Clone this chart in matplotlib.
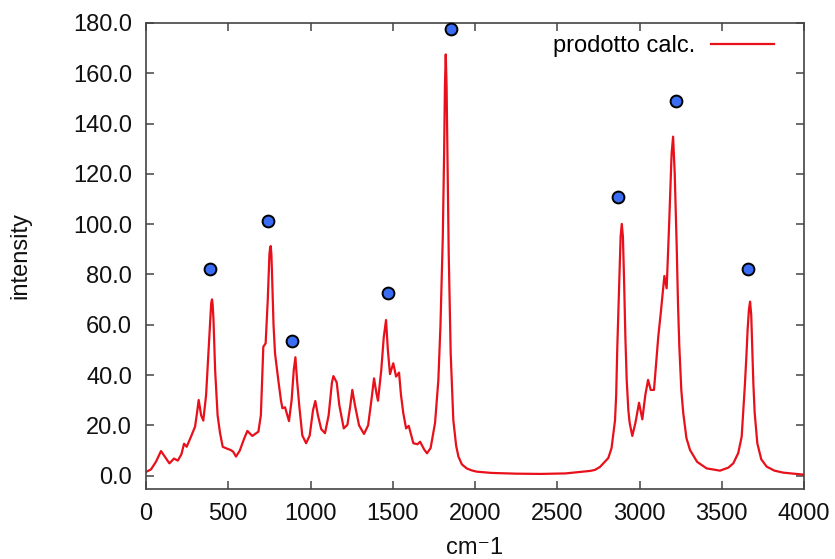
import matplotlib
matplotlib.use('Agg')
import matplotlib.pyplot as plt
from matplotlib.ticker import FormatStrFormatter, MultipleLocator

plt.rcParams['font.family'] = ['Liberation Sans', 'DejaVu Sans']

# spettro calcolato
wavenumber = [0, 30, 60, 91, 115, 142, 170, 193, 215, 231, 247, 270, 298, 310, 320, 335, 348,
              365, 380, 392, 396, 401, 405, 410, 420, 435, 450, 466, 494, 515, 530, 547, 570,
              595, 616, 646, 683, 698, 713, 727, 740, 750, 754, 758, 762, 766, 775, 784, 804,
              820, 829, 845, 869, 885, 898, 908, 918, 932, 950, 973, 995, 1015, 1029, 1045,
              1065, 1088, 1110, 1130, 1139, 1159, 1175, 1202, 1224, 1240, 1254, 1270, 1295,
              1325, 1350, 1370, 1386, 1400, 1410, 1430, 1445, 1459, 1470, 1483, 1503, 1520,
              1538, 1550, 1564, 1581, 1597, 1625, 1650, 1666, 1690, 1708, 1730, 1757, 1777,
              1790, 1804, 1812, 1817, 1822, 1827, 1832, 1840, 1852, 1868, 1885, 1899, 1920,
              1949, 1980, 2010, 2100, 2250, 2400, 2550, 2638, 2700, 2729, 2760, 2780, 2810,
              2830, 2841, 2851, 2858, 2865, 2877, 2885, 2892, 2899, 2906, 2914, 2922, 2932,
              2940, 2956, 2975, 2997, 3017, 3035, 3052, 3068, 3088, 3100, 3114, 3129, 3151,
              3165, 3180, 3195, 3204, 3214, 3226, 3234, 3242, 3254, 3266, 3285, 3307, 3350,
              3408, 3489, 3540, 3570, 3600, 3621, 3641, 3650, 3657, 3665, 3672, 3679, 3686,
              3692, 3700, 3716, 3740, 3773, 3820, 3875, 4000]
intensity = [1.5, 2.5, 5.5, 9.8, 7.5, 4.9, 6.8, 6.0, 8.5, 12.7, 11.5, 15, 19.5, 25, 30.1, 24, 21.9,
             32, 50, 65, 68.5, 70.1, 68, 62, 42, 24, 16.9, 11.5, 10.7, 10.2, 9.5, 7.6, 10,
             14.5, 17.8, 15.8, 17.5, 24, 51.3, 52.6, 70, 88, 90.5, 91.3, 88, 80, 60, 48.7, 38,
             30, 26.8, 27.2, 21.7, 30, 42, 47.1, 38, 27.4, 16, 12.9, 16, 26, 29.7, 24,
             18.5, 16.9, 24, 37, 39.6, 37.1, 28, 18.8, 20.2, 27, 34.1, 28, 20,
             16.6, 20, 30, 38.7, 33, 29.8, 42, 55, 61.9, 50, 40.4, 44.7, 39.4,
             41, 32, 24.8, 18.8, 19.8, 12.9, 12.5, 13.5, 10.5, 8.9, 11, 21, 38,
             60, 95, 128, 155, 167.5, 155, 128, 88.4, 48.7, 22.1, 12, 7.6, 4.5,
             2.9, 2.1, 1.6, 1.1, 0.8, 0.7, 0.9, 1.5, 1.9, 2.3, 3.5, 4.9, 7,
             11, 16.9, 22, 32, 51.3, 77.8, 95, 100.1, 95, 77.8, 55, 38.1, 26,
             21, 15.8, 21, 29.0, 22.4, 32, 38.1, 34.1, 34.1, 44, 55.3, 64.6, 79.4,
             74.5, 100, 128, 134.8, 120, 91.1, 68, 51.3, 34, 24.8, 15, 10.2, 5.5,
             2.9, 2.0, 3.2, 4.9, 9.0, 15.5, 36.7, 48, 58, 66, 69.2, 64, 50,
             36.7, 25, 12.9, 6.5, 3.6, 2.0, 1.2, 0.4]

# punti sperimentali (pallini blu)
dot_x = [389, 744, 890, 1473, 1852, 2871, 3224, 3661]
dot_y = [82.1, 101.3, 53.6, 72.5, 177.5, 110.9, 148.9, 82.2]

fig = plt.figure(figsize=(8.35, 5.59), dpi=100)
ax = fig.add_axes([0.1749, 0.1252, 0.788, 0.8337])

ax.plot(wavenumber, intensity, color='#e8101a', linewidth=1.6, label='prodotto calc.')
ax.plot(dot_x, dot_y, linestyle='none', marker='o', markersize=8.5,
        markerfacecolor='#3a6cf4', markeredgecolor='black', markeredgewidth=1.4,
        clip_on=False, zorder=5)

ax.set_xlim(0, 4000)
ax.set_ylim(-5.3, 180)
ax.xaxis.set_major_locator(MultipleLocator(500))
ax.yaxis.set_major_locator(MultipleLocator(20))
ax.yaxis.set_major_formatter(FormatStrFormatter('%.1f'))

for s in ax.spines.values():
    s.set_color('#444444')
    s.set_linewidth(1.2)
ax.tick_params(direction='in', length=6, width=1.1, color='#444444',
               top=True, right=True, labelsize=17, labelcolor='#111111')
ax.tick_params(axis='x', pad=10)
ax.tick_params(axis='y', pad=10)

ax.set_xlabel('cm\u207b1', fontsize=17, labelpad=9, color='#111111')
ax.set_ylabel('intensity', fontsize=17, labelpad=30, color='#111111')

ax.legend(loc='upper right', frameon=False, markerfirst=False, fontsize=17,
          handlelength=2.7, handletextpad=0.65, borderaxespad=0.1,
          bbox_to_anchor=(0.973, 1.0))

fig.savefig('out.png', dpi=100)
